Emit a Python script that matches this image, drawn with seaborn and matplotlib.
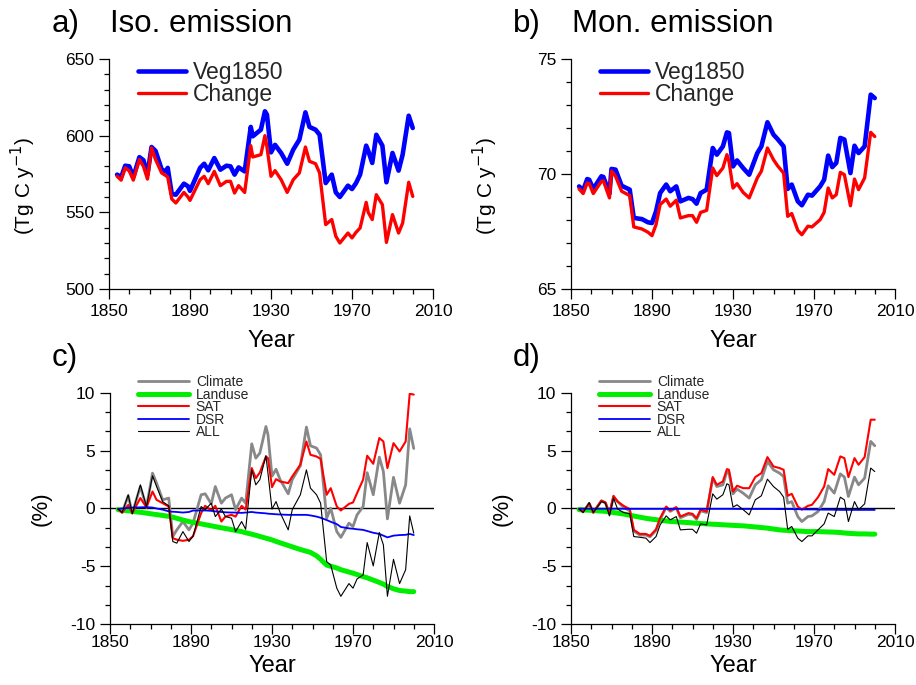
import numpy as np
import pandas as pd
import matplotlib
matplotlib.use("Agg")
import matplotlib.pyplot as plt
import seaborn as sns
from matplotlib.ticker import MultipleLocator

# ---------------- data ----------------
years_a = [1854, 1856, 1858, 1860, 1862, 1865, 1867, 1869, 1871, 1873, 1876, 1878, 1879,
           1881, 1883, 1887, 1889, 1890, 1895, 1897, 1899, 1902, 1905, 1908, 1910, 1912,
           1914, 1917, 1920, 1921, 1925, 1927, 1928, 1930, 1932, 1935, 1938, 1941, 1944,
           1947, 1949, 1952, 1954, 1957, 1960, 1962, 1964, 1968, 1970, 1972, 1974, 1977,
           1978, 1980, 1982, 1985, 1987, 1990, 1993, 1995, 1998, 2000]
iso_veg1850 = [574.6, 573, 580.4, 580, 573, 586, 584, 574.6, 592.6, 590, 578, 576.7, 579,
               562, 561.5, 568.7, 567, 564, 579, 581.7, 577.4, 585.4, 577.8, 580.4, 580, 574.6,
               579.3, 576.7, 605.7, 599.6, 603.9, 615.9, 613.7, 589.1, 594, 588.7, 581.7, 590.9, 597.4,
               615.2, 605.7, 603.9, 600.6, 569.1, 574.6, 563, 560, 567.4, 565.2, 569.1, 574.6, 593.5,
               590.2, 582.2, 600.6, 593.5, 569.6, 588.7, 577.2, 587.6, 613, 605]
iso_change = [573.5, 571, 579, 577, 571, 584.4, 580, 571.7, 592, 584.4, 575.7, 574, 573,
              558.7, 556.1, 563, 560, 557.8, 571.3, 573.5, 568.7, 576.7, 567.4, 570.2, 570.2, 562.6,
              567.4, 563, 593.5, 586.1, 587.6, 600, 592.6, 573.5, 577.2, 571.3, 563, 571.3, 575.7,
              592.6, 583.3, 581.7, 575.7, 542, 545.3, 534.4, 530, 536.5, 533.3, 537, 539.8, 556.5,
              550, 545.3, 561.5, 555, 530.4, 548.5, 536.5, 543, 569.6, 560.4]

years_b = [1854, 1856, 1858, 1859, 1861, 1865, 1866, 1869, 1870, 1872, 1875, 1879, 1881,
           1885, 1888, 1890, 1892, 1894, 1897, 1899, 1902, 1904, 1908, 1910, 1912, 1914,
           1917, 1920, 1922, 1925, 1927, 1928, 1930, 1932, 1935, 1938, 1942, 1944, 1947,
           1950, 1952, 1955, 1957, 1959, 1962, 1964, 1967, 1969, 1973, 1975, 1977, 1979,
           1981, 1983, 1985, 1988, 1990, 1992, 1995, 1998, 2000]
mon_veg1850 = [69.46, 69.29, 69.78, 69.75, 69.35, 69.9, 69.87, 69.15, 70.22, 70.19, 69.49, 69.32, 68.09,
               68.04, 67.9, 67.87, 68.38, 69.17, 69.54, 69.25, 69.46, 68.81, 68.96, 68.91, 68.71, 69.17,
               69.32, 71.13, 70.84, 71.2, 71.81, 71.78, 70.33, 70.59, 70.26, 69.97, 70.91, 71.2, 72.25,
               71.71, 71.52, 71.2, 69.35, 69.54, 68.81, 68.64, 69.1, 69.06, 69.46, 69.75, 70.8, 70.3,
               70.48, 71.57, 71.5, 70.04, 71.23, 70.91, 71.2, 73.45, 73.3]
mon_change = [69.35, 69.15, 69.61, 69.58, 69.15, 69.68, 69.7, 68.96, 70.12, 69.9, 69.25, 69.06, 67.7,
              67.61, 67.47, 67.32, 67.8, 68.67, 68.91, 68.6, 68.86, 68.09, 68.19, 68.19, 67.9, 68.33,
              68.42, 70.26, 69.93, 70.26, 70.84, 70.55, 69.39, 69.58, 69.2, 68.96, 69.83, 70.12, 71.13,
              70.62, 70.36, 70.04, 68.16, 68.28, 67.55, 67.36, 67.73, 67.7, 68.01, 68.33, 69.39, 68.96,
              69.1, 70.07, 69.97, 68.62, 69.78, 69.32, 69.83, 71.81, 71.63]

years_c = [1854, 1856, 1859, 1861, 1865, 1868, 1871, 1873, 1876, 1879, 1881, 1883, 1886, 1889,
           1891, 1895, 1897, 1900, 1902, 1905, 1907, 1910, 1912, 1915, 1917, 1920, 1922, 1924,
           1927, 1928, 1930, 1932, 1934, 1938, 1940, 1944, 1947, 1949, 1952, 1954, 1957, 1959,
           1962, 1964, 1968, 1970, 1972, 1975, 1977, 1980, 1983, 1985, 1987, 1990, 1993, 1996,
           1998, 2000]
iso_climate = [-0.05, -0.35, 1.1, -0.4, 1.9, 0.1, 3.06, 2.2, 0.75, 0.9, -2.43, -1.85, -1.13, -1.85,
               -1.27, 1.19, 1.27, 0.4, 1.9, 0.46, 0.9, 1.19, -0.1, 0.9, 0.46, 5.6, 4.36, 4.8,
               7.1, 6.4, 2.8, 3.4, 2.5, 1.27, 2.5, 3.7, 7.05, 5.43, 5.23, 4.65, -0.84, 0.03,
               -2.0, -2.5, -1.27, -1.56, -0.55, 0.17, 3.1, 1.19, 4.45, 3.2, -0.9, 2.7, 0.46, 2.05,
               6.9, 5.2]
iso_landuse = [-0.1, -0.15, -0.2, -0.25, -0.33, -0.4, -0.48, -0.53, -0.6, -0.68, -0.75, -0.85, -1.0, -1.13,
               -1.2, -1.33, -1.4, -1.5, -1.57, -1.67, -1.73, -1.83, -1.9, -2.0, -2.1, -2.22, -2.32, -2.42,
               -2.57, -2.62, -2.72, -2.85, -2.97, -3.2, -3.32, -3.55, -3.7, -3.8, -4.1, -4.4, -4.9, -5.0,
               -5.15, -5.3, -5.5, -5.6, -5.72, -5.9, -6.0, -6.2, -6.4, -6.55, -6.75, -6.95, -7.1, -7.15,
               -7.2, -7.2]
iso_sat = [-0.05, -0.35, 0.3, -0.4, 0.9, 0.1, 1.47, 0.75, 0.46, 0.17, -2.57, -2.7, -2.8, -2.7,
           -2.4, -0.4, 0.23, -0.17, 0.23, -1.13, -0.7, -0.55, -0.7, 0.23, -0.1, 3.5, 2.63, 3.12,
           4.5, 4.36, 1.85, 2.54, 2.34, 2.2, 2.77, 3.8, 5.8, 4.65, 4.5, 4.3, 1.19, 1.76,
           0.17, -0.17, 0.4, 0.52, 1.33, 2.5, 4.57, 3.87, 6.1, 5.8, 3.5, 5.66, 4.94, 5.8,
           9.94, 9.86]
iso_dsr = [-0.05, 0.0, 0.05, 0.08, 0.1, 0.12, 0.08, 0.0, -0.1, -0.25, -0.28, -0.3, -0.35, -0.3,
           -0.18, -0.17, -0.17, -0.2, -0.25, -0.3, -0.33, -0.35, -0.35, -0.38, -0.35, -0.3, -0.35, -0.38,
           -0.42, -0.45, -0.47, -0.5, -0.52, -0.55, -0.55, -0.55, -0.55, -0.6, -0.7, -0.8, -1.0, -1.15,
           -1.35, -1.6, -1.72, -1.75, -1.8, -1.85, -1.95, -2.1, -2.2, -2.35, -2.5, -2.35, -2.3, -2.28,
           -2.2, -2.3]
iso_all = [-0.05, -0.35, 1.19, -0.46, 2.05, 0.17, 2.83, 1.9, 0.6, 0.23, -2.86, -3.0, -2.0, -2.86,
           -2.4, 0.17, -0.1, 0.46, -0.7, -0.05, -0.7, -0.84, -2.0, -1.13, -1.8, 3.35, 2.05, 2.5,
           4.57, 3.06, -0.05, 0.6, -0.35, -1.85, -0.1, 1.19, 3.35, 1.76, 1.19, 0.46, -4.6, -4.9,
           -6.9, -7.6, -6.5, -6.9, -6.1, -5.75, -2.95, -4.97, -2.08, -3.15, -7.6, -4.4, -6.5, -5.3,
           -0.64, -2.14]

years_d = [1854, 1856, 1859, 1861, 1865, 1867, 1869, 1871, 1873, 1876, 1879, 1881, 1884, 1887,
           1889, 1892, 1894, 1897, 1899, 1902, 1904, 1908, 1910, 1912, 1914, 1917, 1920, 1922,
           1925, 1927, 1928, 1930, 1932, 1935, 1938, 1941, 1944, 1947, 1950, 1953, 1955, 1957,
           1959, 1962, 1964, 1967, 1969, 1972, 1975, 1977, 1980, 1983, 1985, 1987, 1990, 1992,
           1995, 1998, 2000]
mon_climate = [-0.05, -0.3, 0.45, -0.35, 0.65, 0.5, -0.5, 1.0, 0.6, 0.1, -0.2, -1.95, -2.3, -2.3,
               -2.45, -1.9, -0.95, 0.1, -0.25, 0.05, -0.8, -0.5, -0.55, -0.95, -0.2, -0.35, 2.63, 1.9,
               2.05, 3.2, 3.1, 1.27, 1.68, 1.33, 0.9, 2.05, 2.49, 4.08, 3.35, 3.06, 2.77, 0.46,
               0.6, -0.7, -1.13, -0.7, -0.64, -0.26, 0.6, 1.97, 1.33, 3.0, 2.72, 1.04, 2.72, 2.05,
               2.63, 5.81, 5.43]
mon_landuse = [-0.1, -0.12, -0.15, -0.18, -0.22, -0.25, -0.3, -0.35, -0.4, -0.48, -0.58, -0.65, -0.75, -0.85,
               -0.9, -0.97, -1.02, -1.08, -1.12, -1.15, -1.18, -1.22, -1.25, -1.28, -1.3, -1.33, -1.36, -1.38,
               -1.41, -1.43, -1.44, -1.46, -1.48, -1.5, -1.55, -1.6, -1.65, -1.7, -1.78, -1.85, -1.88, -1.9,
               -1.92, -1.95, -1.97, -2.0, -2.0, -2.0, -2.02, -2.03, -2.05, -2.08, -2.12, -2.15, -2.18, -2.2,
               -2.2, -2.22, -2.22]
mon_sat = [-0.05, -0.26, 0.4, -0.35, 0.69, 0.52, -0.4, 1.1, 0.6, 0.23, -0.05, -1.85, -2.2, -2.2,
           -2.37, -1.8, -0.84, 0.17, -0.17, 0.12, -0.7, -0.4, -0.46, -0.84, -0.1, -0.26, 2.72, 2.05,
           2.34, 3.41, 3.35, 1.47, 1.97, 1.76, 1.76, 2.72, 3.06, 4.45, 3.64, 3.5, 3.35, 1.1,
           1.27, 0.17, -0.1, 0.23, 0.32, 0.98, 1.9, 3.41, 2.92, 4.51, 4.36, 2.72, 4.36, 3.79,
           4.45, 7.69, 7.69]
mon_dsr = [-0.02, -0.02, -0.02, -0.02, -0.02, -0.02, -0.02, -0.02, -0.02, -0.02, -0.03, -0.03, -0.03, -0.03,
           -0.03, -0.03, -0.03, -0.03, -0.03, -0.03, -0.03, -0.03, -0.03, -0.03, -0.03, -0.03, -0.03, -0.03,
           -0.03, -0.03, -0.03, -0.03, -0.04, -0.04, -0.04, -0.04, -0.04, -0.04, -0.04, -0.05, -0.05, -0.05,
           -0.05, -0.06, -0.07, -0.08, -0.08, -0.09, -0.1, -0.1, -0.11, -0.12, -0.12, -0.12, -0.12, -0.12,
           -0.12, -0.12, -0.12]
mon_all = [-0.05, -0.35, 0.52, -0.35, 0.6, 0.46, -0.64, 0.9, -0.05, -0.35, -0.46, -2.43, -2.49, -2.57,
           -2.95, -2.43, -1.42, -0.64, -0.98, -0.7, -1.85, -1.8, -1.8, -2.14, -1.33, -1.42, 1.27, 0.81,
           1.19, 2.14, 2.05, 0.12, 0.32, -0.1, -0.55, 0.75, 1.1, 2.54, 1.9, 1.47, 0.98, -1.8,
           -1.56, -2.57, -2.86, -2.37, -2.37, -1.85, -1.33, -0.4, -0.7, 0.98, 0.75, -1.13, 0.6, -0.1,
           0.4, 3.5, 3.2]

xticks = [1850, 1890, 1930, 1970, 2010]

# ---------------- style ----------------
sns.set_theme(style="ticks")
plt.rcParams["font.family"] = ["Liberation Sans", "DejaVu Sans"]
plt.rcParams["axes.unicode_minus"] = False

BLUE = "#0000ff"
RED = "#ff0000"
GREEN = "#00ee00"
GRAY = "#888888"

fig = plt.figure(figsize=(9.16, 6.85), dpi=100)
W, H = 916, 685


def make_ax(left, top, width, height):
    return fig.add_axes([left / W, 1 - (top + height) / H, width / W, height / H])


ax_a = make_ax(109, 59, 324, 230)
ax_b = make_ax(571, 59, 324, 230)
ax_c = make_ax(110, 393, 324, 231)
ax_d = make_ax(571, 393, 324, 231)


def style_axes(ax, ylim, ymaj, ymin, xpad):
    ax.set_xlim(1850, 2010)
    ax.set_ylim(*ylim)
    ax.xaxis.set_major_locator(MultipleLocator(40))
    ax.xaxis.set_minor_locator(MultipleLocator(10))
    ax.yaxis.set_major_locator(MultipleLocator(ymaj))
    ax.yaxis.set_minor_locator(MultipleLocator(ymin))
    ax.set_xticks(xticks)
    ax.set_xticklabels([str(x) for x in xticks])
    for s in ["top", "right"]:
        ax.spines[s].set_visible(False)
    for s in ["left", "bottom"]:
        ax.spines[s].set_linewidth(0.9)
        ax.spines[s].set_color("black")
    ax.tick_params(which="major", direction="out", length=7, width=0.9,
                   labelsize=12.5, pad=3.5, colors="black")
    ax.tick_params(which="minor", direction="out", length=3.8, width=0.9, colors="black")
    ax.tick_params(axis="x", which="major", pad=xpad)
    ax.set_facecolor("white")
    ax.grid(False)


# ---- top panels ----
for ax, yrs, veg, chg, ylim, ymaj, ymin in [
    (ax_a, years_a, iso_veg1850, iso_change, (500, 650), 50, 10),
    (ax_b, years_b, mon_veg1850, mon_change, (65, 75), 5, 1),
]:
    sns.lineplot(x=yrs, y=veg, ax=ax, color=BLUE, linewidth=3.3, label="Veg1850")
    sns.lineplot(x=yrs, y=chg, ax=ax, color=RED, linewidth=2.4, label="Change")
    style_axes(ax, ylim, ymaj, ymin, xpad=3.6)
    ax.legend(loc="upper left", bbox_to_anchor=(0.089, 0.99), frameon=False,
              fontsize=16.5, handlelength=2.1, handletextpad=0.3, labelspacing=-0.04,
              borderpad=0, borderaxespad=0)
    ax.set_ylabel("(Tg C y$^{-1}$)", fontsize=15, color="black")
    ax.yaxis.set_label_coords(-0.22, 0.45)
    ax.set_xlabel("Year", fontsize=17, color="black")
    ax.xaxis.set_label_coords(0.5, -0.18)

# ---- bottom panels ----
for ax, yrs, clim, land, sat, dsr, allv in [
    (ax_c, years_c, iso_climate, iso_landuse, iso_sat, iso_dsr, iso_all),
    (ax_d, years_d, mon_climate, mon_landuse, mon_sat, mon_dsr, mon_all),
]:
    ax.axhline(0, color="black", linewidth=1.0, zorder=1)
    sns.lineplot(x=yrs, y=clim, ax=ax, color=GRAY, linewidth=2.0, label="Climate", zorder=2)
    sns.lineplot(x=yrs, y=land, ax=ax, color=GREEN, linewidth=3.6, label="Landuse", zorder=2)
    sns.lineplot(x=yrs, y=sat, ax=ax, color=RED, linewidth=1.5, label="SAT", zorder=3)
    sns.lineplot(x=yrs, y=dsr, ax=ax, color=BLUE, linewidth=1.3, label="DSR", zorder=3)
    sns.lineplot(x=yrs, y=allv, ax=ax, color="black", linewidth=0.8, label="ALL", zorder=4)
    style_axes(ax, (-10, 10), 5, 5 / 3, xpad=1.0)
    ax.legend(loc="upper left", bbox_to_anchor=(0.086, 1.077), frameon=False,
              fontsize=10, handlelength=3.67, handletextpad=0.5, labelspacing=-0.11,
              borderpad=0, borderaxespad=0)
    ax.set_ylabel("(%)", fontsize=16, color="black")
    ax.yaxis.set_label_coords(-0.18, 0.5)
    ax.set_xlabel("Year", fontsize=17, color="black")
    ax.xaxis.set_label_coords(0.5, -0.133)

# ---- panel titles ----
def ftext(x, y, s, size):
    fig.text(x / W, 1 - y / H, s, fontsize=size, color="black", ha="left", va="baseline")

ftext(52, 32, "a)", 22.5)
ftext(110, 32, "Iso. emission", 22.5)
ftext(513, 32, "b)", 22.5)
ftext(572, 32, "Mon. emission", 22.5)
ftext(52, 366, "c)", 22.5)
ftext(513, 366, "d)", 22.5)

fig.savefig("out.png", dpi=100, facecolor="white")
